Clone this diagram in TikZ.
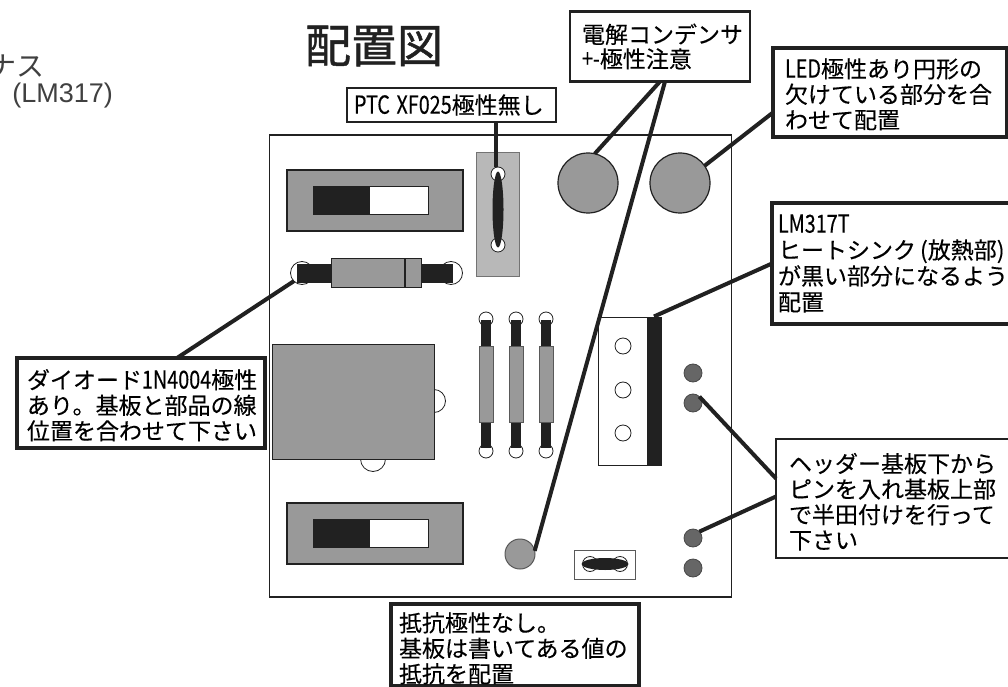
\documentclass[tikz,border=0pt]{standalone}
\usepackage{fontspec}
\setmainfont{Noto Sans CJK JP}[FakeBold=0.25]
\newfontfamily\titlefont{Noto Sans CJK JP}[FakeBold=1]
\newfontfamily\plainfont{Noto Sans CJK JP}
\newfontfamily\latinfont{Liberation Sans}
\usetikzlibrary{positioning,shapes.geometric}
\definecolor{partgray}{gray}{0.6}
\definecolor{lightgray}{gray}{0.72}
\definecolor{inkgray}{gray}{0.13}
\definecolor{pingray}{gray}{0.4}
\newcommand{\hw}[1]{\scalebox{.86}[1.08]{#1}}

\begin{document}
\begin{tikzpicture}[
  x=1pt,y=-1pt,
  every node/.style={inner sep=0pt,outer sep=0pt},
  notes/.style={draw=inkgray,fill=white,anchor=north west,align=left,inner ysep=0pt,font=\fontsize{23}{25.5}\selectfont},
  thinbox/.style={notes,line width=2pt},
  midbox/.style={notes,line width=2.5pt},
  thickbox/.style={notes,line width=4pt},
  dropped/.style={execute at begin node={\rule{0pt}{#1}}},
  leader/.style={draw=inkgray,line width=4pt},
  part/.style={rectangle,draw=inkgray,fill=partgray,line width=1pt},
  hole/.style={circle,draw=inkgray,fill=white,line width=.8pt,minimum size=#1},
  pinpad/.style={circle,draw=pingray!70!black,fill=pingray,line width=.8pt,minimum size=18pt},
  roundcap/.style={circle,draw=inkgray,fill=partgray,line width=1.2pt,minimum size=60pt},
]
\useasboundingbox (0,0) rectangle (1008,687);
\node (board) [draw=inkgray,fill=white,line width=1.5pt,minimum width=462pt,minimum height=462pt,anchor=north west] at (269.5,135) {};
\node (cuta) [anchor=east,font=\plainfont\fontsize{28}{28}\selectfont,text=black!75] at (44,66) {ナス};
\node (cutb) [anchor=east,font=\latinfont\fontsize{27}{27}\selectfont,text=black!75] at (113,96) {(LM317)};
\node (title) [font=\titlefont\fontsize{46}{46}\selectfont,text=inkgray] at (374,46) {配置図};
\foreach \name/\ty in {swa/170,swb/503}{
  \node (\name) [part,line width=1.5pt,minimum width=176pt,minimum height=61pt,anchor=north west] at (287,\ty) {};
  \node (\name k) [draw=inkgray,fill=white,line width=.8pt,minimum width=115pt,minimum height=28pt,anchor=north west] at (313,\ty+16.5) {};
  \node (\name b) [fill=inkgray,minimum width=57pt,minimum height=29pt,anchor=north west] at (312.5,\ty+16) {};
}
\node (dl) [hole=23pt] at (302,273) {};
\node (dr) [hole=23pt] at (451,273) {};
\node (dwire) [fill=inkgray,minimum width=156pt,minimum height=19pt] at (375,273) {};
\node (dbody) [part,minimum width=90pt,minimum height=29pt] at (376,273) {};
\draw [inkgray,line width=1.2pt] (dbody.north -| 405,0) -- (dbody.south -| 405,0);
\node (ptcbase) [draw=black!55,fill=lightgray,line width=1pt,minimum width=43pt,minimum height=124pt,anchor=north west] at (476,152.5) {};
\node (ptct) [hole=14pt] at (498,174) {};
\node (ptcb) [hole=14pt] at (498,245) {};
\node (ptcbody) [ellipse,fill=inkgray,minimum width=11pt,minimum height=76pt] at (498,209.5) {};
\node (relayr) [hole=23pt] at (434,401) {};
\node (relayb) [hole=25pt] at (373,459) {};
\node (relay) [part,minimum width=162pt,minimum height=115pt,anchor=north west] at (272,344) {};
\foreach \name/\tx in {ra/486,rb/516,rc/546}{
  \node (\name t) [hole=14pt] at (\tx,319) {};
  \node (\name b) [hole=14pt] at (\tx,451) {};
  \node (\name w) [fill=inkgray,minimum width=10pt,minimum height=128pt] at (\tx,384) {};
  \node (\name) [part,draw=black!65,minimum width=14pt,minimum height=76pt] at (\tx,384) {};
}
\node (capa) [roundcap] at (588,183) {};
\node (led) [roundcap] at (680,183) {};
\node (regbody) [draw=inkgray,fill=white,line width=1pt,minimum width=63pt,minimum height=148pt,anchor=north west] at (598,317) {};
\node (regsink) [fill=inkgray,minimum width=14pt,minimum height=149pt,anchor=north west] at (647,316.5) {};
\foreach \name/\ty in {rega/346,regb/390,regc/433}{
  \node (\name) [hole=16pt] at (623,\ty) {};
}
\node (pina) [pinpad] at (693,373) {};
\node (pinb) [pinpad] at (693,403) {};
\node (pinc) [pinpad] at (693,538) {};
\node (pind) [pinpad] at (693,568) {};
\node (capb) [circle,draw=black!65,fill=partgray,line width=1pt,minimum size=30pt] at (520,554) {};
\node (jbox) [draw=black!65,fill=white,line width=1pt,minimum width=61pt,minimum height=29pt,anchor=north west] at (574,550) {};
\node (jl) [hole=15pt] at (590,564) {};
\node (jr) [hole=15pt] at (620,564) {};
\node (jbody) [ellipse,fill=inkgray,minimum width=47pt,minimum height=12pt] at (605,564) {};
\node (notecap) [midbox,inner xsep=12pt,text width=156pt,minimum height=70pt] at (570,11.5) {電解コンデンサ\\[-1pt]\hw{+-}極性注意};
\node (noteptc) [thinbox,inner xsep=7pt,text width=195pt,minimum height=34pt] at (347,88) {\hw{PTC XF025}極性無し};
\node (noteled) [thickbox,dropped=23pt,inner xsep=12pt,text width=210pt,minimum height=89pt] at (773,48) {\hw{LED}極性あり円形の\\欠けている部分を合\\わせて配置};
\node (notelm) [thickbox,inner xsep=6pt,text width=240pt,minimum height=121pt,font=\fontsize{23}{26}\selectfont] at (772,203) {\hw{LM317T}\\ヒートシンク\hspace{4pt}(放熱部)\\が黒い部分になるよう\\配置};
\node (notehead) [thinbox,dropped=26pt,inner xsep=13pt,text width=220pt,minimum height=119pt] at (776,439) {ヘッダー基板下から\\ピンを入れ基板上部\\で半田付けを行って\\下さい};
\node (notediode) [thickbox,dropped=24pt,inner xsep=10pt,text width=228pt,minimum height=90pt] at (17,358) {ダイオード\hw{1N4004}極性\\あり。基板と部品の線\\位置を合わせて下さい};
\node (noteres) [thickbox,dropped=26pt,inner xsep=8pt,text width=232pt,minimum height=82pt] at (391,604) {抵抗極性なし。\\基板は書いてある値の\\抵抗を配置};
\draw [leader] (notecap.south) -- (capa.77);
\draw [leader] ([xshift=5pt]notecap.south) -- (capb.12);
\draw [leader] ([yshift=-20pt]noteled.west) -- (led.35);
\draw [leader] (notelm.west) -- (regsink.north);
\draw [leader] (notediode.north -| 177,0) -- (dl.225);
\draw [leader] ([xshift=-2pt]ptct.north |- noteptc.south) -- ([xshift=-2pt]ptct.north);
\draw [leader] ([yshift=20pt]notehead.west) -- (pinb.north east);
\draw [leader] ([yshift=2pt]notehead.west) -- (pinc.north east);
\end{tikzpicture}
\end{document}
